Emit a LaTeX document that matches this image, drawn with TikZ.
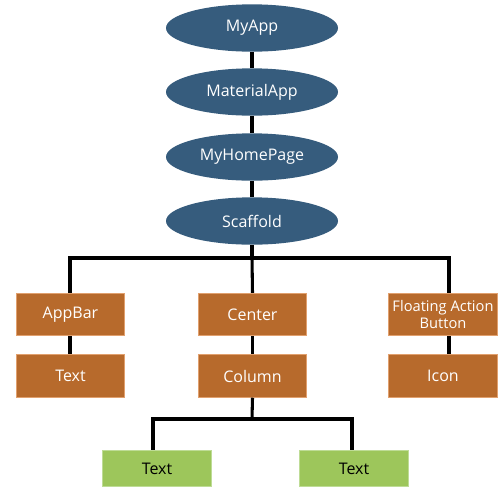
\documentclass[tikz,border=0pt]{standalone}
\usepackage{fontspec}
\setmainfont{Open Sans}
\usetikzlibrary{shapes.geometric}
\definecolor{ellblue}{RGB}{54,92,125}
\definecolor{boxorange}{RGB}{183,106,44}
\definecolor{boxorangeline}{RGB}{225,160,110}
\definecolor{boxgreen}{RGB}{157,198,91}
\definecolor{boxgreenline}{RGB}{190,220,150}
\begin{document}
\begin{tikzpicture}[x=0.75pt,y=-0.75pt,
  ell/.style={ellipse, fill=ellblue, draw=none, minimum width=129pt, minimum height=35.5pt, inner sep=0pt, text=white, font=\fontsize{12}{14}\selectfont},
  obox/.style={rectangle, fill=boxorange, draw=boxorangeline, line width=0.6pt, minimum width=81.5pt, minimum height=32pt, inner sep=0pt, text=white, align=center, font=\fontsize{12}{14}\selectfont},
  obox2/.style={obox, font=\fontsize{11}{12.5}\selectfont},
  gbox/.style={rectangle, fill=boxgreen, draw=boxgreenline, line width=0.6pt, minimum width=82pt, minimum height=27.5pt, inner sep=0pt, text=black, font=\fontsize{12}{14}\selectfont},
  conn/.style={draw=black, line width=2.3pt}]
\useasboundingbox (0,0) rectangle (504,494);
\coordinate (hl) at (70,258);
\coordinate (hc) at (252,258);
\coordinate (hr) at (449,258);
\coordinate (bc) at (252,419);
\coordinate (bl) at (153,419);
\coordinate (br) at (352,419);
\node[ell] (myapp) at (252,28) {MyApp};
\node[ell] (material) at (252,92) {MaterialApp};
\node[ell] (home) at (252,157) {MyHomePage};
\node[ell] (scaffold) at (252,221) {Scaffold};
\node[obox] (appbar) at (70.5,314.5) {AppBar};
\node[obox] (center) at (252.5,314.5) {Center};
\node[obox2] (fab) at (443,314.5) {Floating Action\\Button};
\node[obox] (text1) at (70.5,376) {Text};
\node[obox] (column) at (252.5,376) {Column};
\node[obox] (icon) at (443,376) {Icon};
\node[gbox] (t2) at (157,468.5) {Text};
\node[gbox] (t3) at (354,468.5) {Text};
\draw[conn] (myapp.south) -- (material.north);
\draw[conn] (material.south) -- (home.north);
\draw[conn] (home.south) -- (scaffold.north);
\draw[conn] (scaffold.south) -- (hc);
\draw[conn] (hc) -- (center.north);
\draw[conn] (appbar.north -| hl) |- (hr) -- (hr |- fab.north);
\draw[conn] (appbar.south -| hl) -- (text1.north -| hl);
\draw[conn] (center.south) -- (column.north);
\draw[conn] (fab.south -| hr) -- (icon.north -| hr);
\draw[conn] (column.south) -- (bc);
\draw[conn] (t2.north -| bl) |- (br) -- (br |- t3.north);
\end{tikzpicture}
\end{document}
